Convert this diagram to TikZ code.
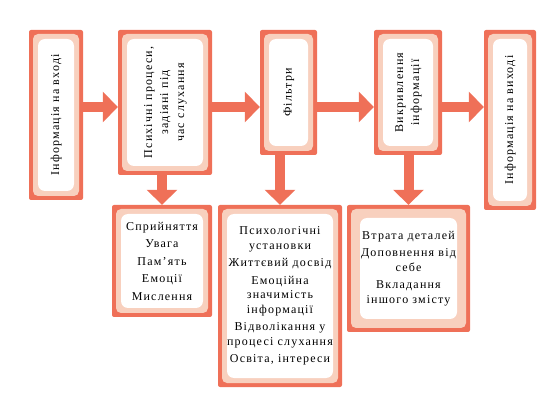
\documentclass[tikz,border=0pt]{standalone}
\usepackage{fontspec}
\setmainfont{Liberation Serif}[LetterSpace=10]
\usetikzlibrary{arrows.meta,calc,positioning}
\definecolor{boxred}{RGB}{239,112,88}
\definecolor{boxpeach}{RGB}{248,208,190}
\renewcommand{\arraystretch}{1.1}
\newcommand{\vlabel}[1]{\rotatebox{90}{\begin{tabular}{@{}c@{}}#1\end{tabular}}}
\tikzset{%
	card/.style  = {fill=boxred, rounded corners=2pt, inner sep=0pt, align=center, font=\fontsize{12}{14.5}\selectfont,
		path picture={
			\fill[boxpeach, rounded corners=5pt] ([shift={(4pt,4pt)}]path picture bounding box.south west) rectangle ([shift={(-4pt,-4pt)}]path picture bounding box.north east);
			\fill[white, rounded corners=7pt] ([shift={(#1,#1)}]path picture bounding box.south west) rectangle ([shift={(-#1,-#1)}]path picture bounding box.north east);}},
	card/.default = 9pt,
	arrow/.style = {draw=boxred, line width=10pt, -{Triangle[length=15pt,width=30pt]}},
}
\begin{document}
\begin{tikzpicture}[x=1pt,y=-1pt]
	\useasboundingbox (0,0) rectangle (560,414);
	
	% top row
	\node[card, minimum width=54pt, minimum height=170pt] (input) at (56,115) {\vlabel{Інформація на вході}};
	\node[card, minimum width=94pt, minimum height=145pt] (proc) at (165,102.5) {\vlabel{Психічні процеси,\\ задіяні під\\ час слухання}};
	\node[card, minimum width=57pt, minimum height=125pt] (filter) at (288.5,92.5) {\vlabel{Фільтри}};
	\node[card, minimum width=68pt, minimum height=125pt] (distort) at (408,92.5) {\vlabel{Викривлення\\ інформації}};
	\node[card, minimum width=52pt, minimum height=180pt] (output) at (510,120) {\vlabel{Інформація на виході}};
	
	% lower row
	\node[card, minimum width=100pt, minimum height=112pt] (mind) at (162,261) {Сприйняття\\[3pt] Увага\\[3pt] Пам’ять\\[3pt] Емоції\\[3pt] Мислення};
	\node[card, minimum width=124pt, minimum height=182pt] (barrier) at (280,296) {Психологічні\\ установки\\[3pt] Життєвий досвід\\[3pt] Емоційна\\ значимість\\ інформації\\[3pt] Відволікання у\\ процесі слухання\\[3pt] Освіта, інтереси};
	\node[card=13pt, minimum width=123pt, minimum height=127pt] (loss) at (408.5,268.5) {Втрата деталей\\[3pt] Доповнення від\\ себе\\[3pt] Вкладання\\ іншого змісту};
	
	\coordinate (row) at (0,107);
	\draw[arrow] (input.east |- row) -- (proc.west |- row);
	\draw[arrow] (proc.east |- row) -- (filter.west |- row);
	\draw[arrow] (filter.east |- row) -- (distort.west |- row);
	\draw[arrow] (distort.east |- row) -- (output.west |- row);
	
	\draw[arrow] (proc.south -| mind.north) -- (mind.north);
	\draw[arrow] (filter.south -| barrier.north) -- (barrier.north);
	\draw[arrow] (distort.south -| loss.north) -- (loss.north);
\end{tikzpicture}
\end{document}
